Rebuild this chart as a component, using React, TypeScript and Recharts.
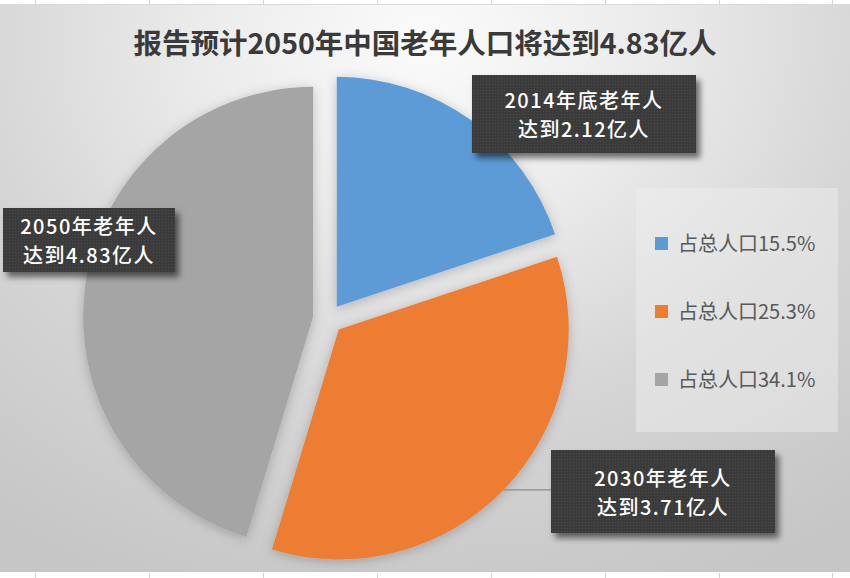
import React from "react";
import { PieChart, Pie, Cell, Legend } from "recharts";

// 老年人口（亿人）
const CATEGORIES = ["2014年底", "2030年", "2050年"];
const ELDERLY = [2.12, 3.71, 4.83];
const SHARE = [15.5, 25.3, 34.1];
const COLORS = ["#5B9BD5", "#ED7D31", "#A5A5A5"];

const TITLE = "报告预计2050年中国老年人口将达到4.83亿人";
const FONT = '"Noto Sans CJK SC", "Noto Sans", sans-serif';

const pieData = CATEGORIES.map((name, i) => ({ name, value: ELDERLY[i] }));

// layout
const W = 850;
const H = 578;
const CX = 328;
const CY = 319;
const R = 230;
const EXPLODE = 15;
const LINE_GAP = 29;
const LABEL_BOXES = [
  { x: 472, y: 75, w: 224, h: 78 },
  { x: 551, y: 450, w: 224, h: 83 },
  { x: 3, y: 208, w: 172, h: 64 },
];
const GRID_X = [35, 149, 263, 377, 491, 605, 719, 832];

const total = ELDERLY.reduce((a, b) => a + b, 0);
const offsets = ELDERLY.map((v, i) => {
  const before = ELDERLY.slice(0, i).reduce((a, b) => a + b, 0);
  const mid = ((90 - (360 * (before + v / 2)) / total) * Math.PI) / 180;
  return { dx: EXPLODE * Math.cos(mid), dy: -EXPLODE * Math.sin(mid) };
});

const BoxText = ({ text, x, y }: { text: string; x: number; y: number }) => (
  <text
    x={x}
    y={y}
    textAnchor="middle"
    dominantBaseline="central"
    fill="#ffffff"
    fontSize={20}
    fontWeight={500}
    letterSpacing={1.5}
    fontFamily={FONT}
  >
    {text}
  </text>
);

const makeLabel = (visible: number) => (props: any) => {
  const { index, cx, cy, midAngle, outerRadius } = props;
  if (index !== visible) return <g />;
  const b = LABEL_BOXES[index];
  const rad = (-midAngle * Math.PI) / 180;
  const px = cx + outerRadius * Math.cos(rad);
  const py = cy + outerRadius * Math.sin(rad);
  const mx = b.x + b.w / 2;
  const my = b.y + b.h / 2;
  const outside = px < b.x || px > b.x + b.w || py < b.y || py > b.y + b.h;
  return (
    <g>
      {outside && index === 1 && <line x1={px} y1={py} x2={b.x} y2={py} stroke="#8c8c8c" strokeWidth={1.2} />}
      <rect x={b.x} y={b.y} width={b.w} height={b.h} fill="#3a3a3a" filter="url(#boxShadow)" />
      <rect x={b.x} y={b.y} width={b.w} height={b.h} fill="url(#dots)" />
      <BoxText text={`${CATEGORIES[index]}老年人`} x={mx} y={my - LINE_GAP / 2} />
      <BoxText text={`达到${ELDERLY[index]}亿人`} x={mx} y={my + LINE_GAP / 2} />
    </g>
  );
};

const renderLegend = () => (
  <div
    style={{
      width: 202,
      height: 244,
      background: "rgba(240,240,240,0.45)",
      boxSizing: "border-box",
      paddingTop: 43,
      paddingLeft: 19,
      fontFamily: FONT,
    }}
  >
    {CATEGORIES.map((c, i) => (
      <div key={c} style={{ display: "flex", alignItems: "center", height: 24, marginBottom: i < 2 ? 44 : 0 }}>
        <span style={{ width: 13, height: 13, background: COLORS[i], display: "inline-block", marginRight: 10 }} />
        <span style={{ fontSize: 20, color: "#595959", lineHeight: "24px" }}>占总人口{SHARE[i]}%</span>
      </div>
    ))}
  </div>
);

export default function App() {
  return (
    <div style={{ position: "absolute", left: 0, top: 0, width: W, height: H, background: "#ffffff", overflow: "hidden" }}>
      {GRID_X.map((x) => (
        <React.Fragment key={x}>
          <div style={{ position: "absolute", left: x, top: 0, width: 1, height: 4, background: "#d4d4d4" }} />
          <div style={{ position: "absolute", left: x, top: 573, width: 1, height: 5, background: "#d4d4d4" }} />
        </React.Fragment>
      ))}
      <div
        style={{
          position: "absolute",
          left: 0,
          top: 4,
          width: W,
          height: 568,
          background:
            "radial-gradient(ellipse 85% 105% at 50% 6%, #fbfbfb 0%, #ececec 30%, #d6d6d6 62%, #c6c6c6 100%)",
          borderTop: "1px solid #d9d9d9",
          borderBottom: "1px solid #c8c8c8",
          boxSizing: "border-box",
        }}
      />
      <div
        style={{
          position: "absolute",
          left: 0,
          top: 22,
          width: W,
          textAlign: "center",
          fontFamily: FONT,
          fontWeight: 700,
          fontSize: 28.5,
          lineHeight: "40px",
          color: "#3a3a3a",
        }}
      >
        {TITLE}
      </div>
      <div style={{ position: "absolute", left: 0, top: 0 }}>
        <PieChart width={W} height={H} margin={{ top: 0, right: 0, bottom: 0, left: 0 }}>
          <defs>
            <filter id="pieShadow" x="-20%" y="-20%" width="140%" height="140%">
              <feDropShadow dx="0" dy="2" stdDeviation="6" floodColor="#000" floodOpacity="0.22" />
            </filter>
            <filter id="boxShadow" x="-10%" y="-20%" width="130%" height="150%">
              <feDropShadow dx="4" dy="5" stdDeviation="3" floodColor="#000" floodOpacity="0.55" />
            </filter>
            <pattern id="dots" width="3" height="3" patternUnits="userSpaceOnUse">
              <rect width="1" height="1" fill="#4a4a4a" />
            </pattern>
          </defs>
          {CATEGORIES.map((_, s) => (
            <Pie
              key={s}
              data={pieData}
              dataKey="value"
              nameKey="name"
              cx={CX + offsets[s].dx}
              cy={CY + offsets[s].dy}
              outerRadius={R}
              startAngle={90}
              endAngle={-270}
              stroke="none"
              labelLine={false}
              label={makeLabel(s)}
              isAnimationActive={false}
            >
              {pieData.map((d, i) => (
                <Cell
                  key={d.name}
                  fill={i === s ? COLORS[i] : "none"}
                  stroke="none"
                  filter={i === s ? "url(#pieShadow)" : undefined}
                />
              ))}
            </Pie>
          ))}
          <Legend
            content={renderLegend}
            wrapperStyle={{ position: "absolute", left: 636, top: 188, width: 202, height: 244 }}
          />
        </PieChart>
      </div>
    </div>
  );
}
